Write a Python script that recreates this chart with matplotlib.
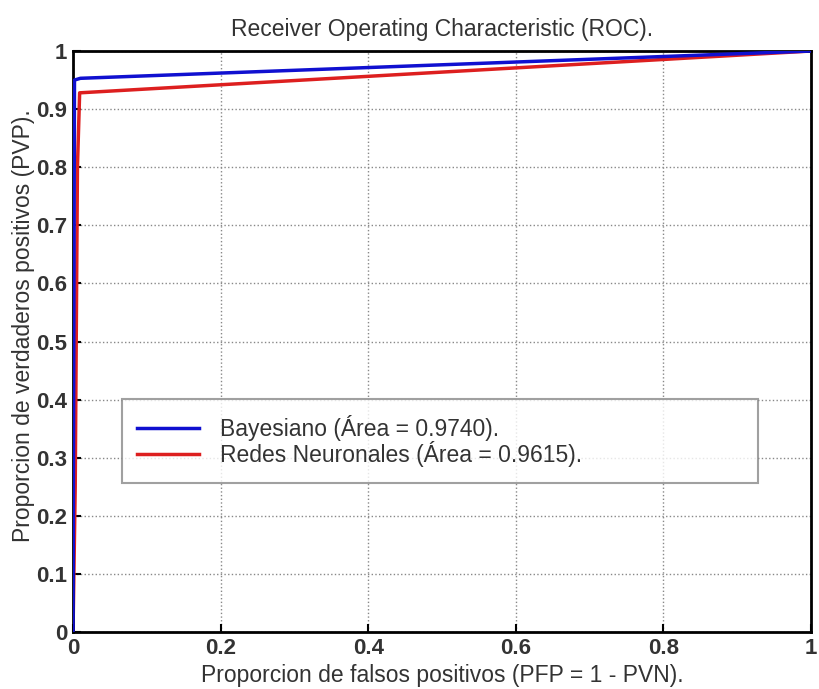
import matplotlib
matplotlib.use("Agg")
import matplotlib.pyplot as plt

plt.rcParams['font.family'] = ['Liberation Sans', 'DejaVu Sans']

# Data
bayes_fpr = [0.0, 0.002, 0.01, 1.0]
bayes_tpr = [0.0, 0.950, 0.953, 1.0]
rn_fpr = [0.0, 0.003, 0.006, 0.009, 1.0]
rn_tpr = [0.0, 0.25, 0.80, 0.928, 1.0]
labels = ["Bayesiano (Área = 0.9740).", "Redes Neuronales (Área = 0.9615)."]
ticks = [0, 0.2, 0.4, 0.6, 0.8, 1]
yticks = [0, 0.1, 0.2, 0.3, 0.4, 0.5, 0.6, 0.7, 0.8, 0.9, 1]

fig = plt.figure(figsize=(8.19, 6.89), dpi=100)
ax = fig.add_axes([73/819, 1-632/689, (811-73)/819, (632-51)/689])

ax.plot(bayes_fpr, bayes_tpr, color='#1010d0', lw=2.5, label=labels[0], zorder=3)
ax.plot(rn_fpr, rn_tpr, color='#dd1f1f', lw=2.5, label=labels[1], zorder=2)

ax.set_xlim(0, 1)
ax.set_ylim(0, 1)
ax.set_xticks(ticks)
ax.set_xticklabels([f"{t:g}" for t in ticks])
ax.set_yticks(yticks)
ax.set_yticklabels([f"{t:g}" for t in yticks])
ax.tick_params(direction='in', length=6, width=1.5, labelsize=16, pad=4)
for lab in ax.get_xticklabels() + ax.get_yticklabels():
    lab.set_fontweight('bold')
    lab.set_color('#333333')
ax.grid(True, linestyle=':', color='#888888', linewidth=1.0)
for s in ax.spines.values():
    s.set_linewidth(2)

fs = 16.5
ax.set_title("Receiver Operating Characteristic (ROC).", fontsize=fs, color='#333333', pad=11)
ax.set_xlabel("Proporcion de falsos positivos (PFP = 1 - PVN).", fontsize=fs, color='#333333', labelpad=4)
ax.set_ylabel("Proporcion de verdaderos positivos (PVP).", fontsize=fs, color='#333333')
ax.yaxis.set_label_coords(-0.051, 0.527)

leg = ax.legend(loc='upper left', bbox_to_anchor=(0.066, 0.258, 0.862, 0.143), mode='expand',
                fontsize=fs, frameon=True, fancybox=False, borderpad=0.68, labelspacing=0.03,
                handlelength=2.7, handletextpad=0.9, borderaxespad=0)
leg.get_frame().set_edgecolor('#888888')
leg.get_frame().set_linewidth(1.5)
for t in leg.get_texts():
    t.set_color('#333333')

fig.savefig("out.png", dpi=100)
